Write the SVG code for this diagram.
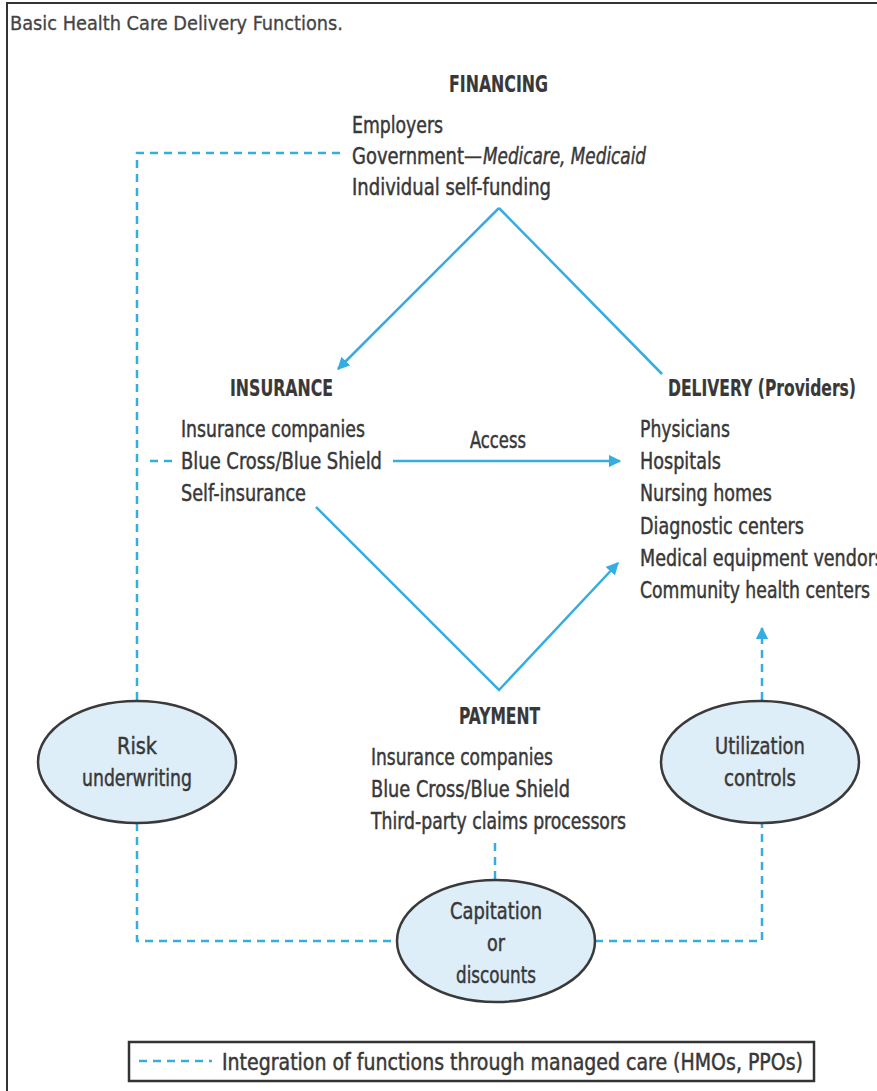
<svg xmlns="http://www.w3.org/2000/svg" width="877" height="1091" viewBox="0 0 877 1091">
<defs>
<style>
text{font-family:"Liberation Sans Narrow","DejaVu Sans Condensed","Liberation Sans",sans-serif;fill:#383838;font-size:23px;stroke:#383838;stroke-width:0.45px;}
.h{font-weight:bold;stroke-width:0.2px;}
.i{font-style:italic;}
.t{font-size:20px;fill:#444;stroke:#444;stroke-width:0.3px;}
.ln{stroke:#35ade0;stroke-width:2.5;fill:none;}
.dash{stroke:#35ade0;stroke-width:2.5;fill:none;stroke-dasharray:8 6;}
.ell{fill:#ddeef9;stroke:#3a3a3a;stroke-width:2.5;}
</style>
<marker id="arr" viewBox="0 0 10 10" refX="9" refY="5" markerWidth="5" markerHeight="5" orient="auto" markerUnits="strokeWidth">
<path d="M0,0 L10,5 L0,10 Z" fill="#35ade0"/>
</marker>
</defs>
<rect width="877" height="1091" fill="#fff"/>
<path d="M7,1091 V3 H877" stroke="#333" stroke-width="2" fill="none"/>
<text class="t" x="10" y="30" textLength="333" lengthAdjust="spacingAndGlyphs">Basic Health Care Delivery Functions.</text>

<g id="connectors">
<path class="ln" d="M499,208 L338,369" marker-end="url(#arr)"/>
<path class="ln" d="M499,208 L662,374"/>
<path class="ln" d="M393,461 L620,461" marker-end="url(#arr)"/>
<path class="ln" d="M316,507 L499,690 L618,563" marker-end="url(#arr)"/>
<path class="dash" d="M340,153 H137 V700"/>
<path class="dash" d="M150,461 H172"/>
<path class="dash" d="M137,823 V941 H397"/>
<path class="dash" d="M495,843 V880"/>
<path class="dash" d="M595,941 H762 V823"/>
<path class="dash" d="M762,700 V628" marker-end="url(#arr)"/>
</g>

<g id="financing">
<text class="h" x="449" y="92" textLength="99" lengthAdjust="spacingAndGlyphs">FINANCING</text>
<text x="352" y="133" textLength="91" lengthAdjust="spacingAndGlyphs">Employers</text>
<text x="352" y="164" textLength="130" lengthAdjust="spacingAndGlyphs">Government—</text>
<text class="i" x="483" y="164" textLength="163" lengthAdjust="spacingAndGlyphs">Medicare, Medicaid</text>
<text x="352" y="195" textLength="199" lengthAdjust="spacingAndGlyphs">Individual self-funding</text>
</g>

<g id="insurance">
<text class="h" x="230" y="396" textLength="103" lengthAdjust="spacingAndGlyphs">INSURANCE</text>
<text x="181" y="437" textLength="184" lengthAdjust="spacingAndGlyphs">Insurance companies</text>
<text x="181" y="469" textLength="201" lengthAdjust="spacingAndGlyphs">Blue Cross/Blue Shield</text>
<text x="181" y="501" textLength="125" lengthAdjust="spacingAndGlyphs">Self-insurance</text>
</g>

<g id="access-label">
<text x="470" y="448" textLength="56" lengthAdjust="spacingAndGlyphs">Access</text>
</g>

<g id="delivery">
<text class="h" x="668" y="396" textLength="188" lengthAdjust="spacingAndGlyphs">DELIVERY (Providers)</text>
<text x="640" y="437" textLength="90" lengthAdjust="spacingAndGlyphs">Physicians</text>
<text x="640" y="469" textLength="81" lengthAdjust="spacingAndGlyphs">Hospitals</text>
<text x="640" y="501" textLength="132" lengthAdjust="spacingAndGlyphs">Nursing homes</text>
<text x="640" y="534" textLength="164" lengthAdjust="spacingAndGlyphs">Diagnostic centers</text>
<text x="640" y="566" textLength="244" lengthAdjust="spacingAndGlyphs">Medical equipment vendors</text>
<text x="640" y="598" textLength="230" lengthAdjust="spacingAndGlyphs">Community health centers</text>
</g>

<g id="payment">
<text class="h" x="459" y="724" textLength="81" lengthAdjust="spacingAndGlyphs">PAYMENT</text>
<text x="371" y="765" textLength="182" lengthAdjust="spacingAndGlyphs">Insurance companies</text>
<text x="371" y="797" textLength="199" lengthAdjust="spacingAndGlyphs">Blue Cross/Blue Shield</text>
<text x="371" y="829" textLength="255" lengthAdjust="spacingAndGlyphs">Third-party claims processors</text>
</g>

<g id="risk">
<ellipse class="ell" cx="137" cy="762" rx="99" ry="61"/>
<text x="137" y="754" text-anchor="middle" textLength="40" lengthAdjust="spacingAndGlyphs">Risk</text>
<text x="137" y="786" text-anchor="middle" textLength="110" lengthAdjust="spacingAndGlyphs">underwriting</text>
</g>

<g id="utilization">
<ellipse class="ell" cx="760" cy="762" rx="99" ry="61"/>
<text x="760" y="754" text-anchor="middle" textLength="90" lengthAdjust="spacingAndGlyphs">Utilization</text>
<text x="760" y="786" text-anchor="middle" textLength="72" lengthAdjust="spacingAndGlyphs">controls</text>
</g>

<g id="capitation">
<ellipse class="ell" cx="496" cy="941" rx="99" ry="61"/>
<text x="496" y="919" text-anchor="middle" textLength="92" lengthAdjust="spacingAndGlyphs">Capitation</text>
<text x="496" y="951" text-anchor="middle" textLength="18" lengthAdjust="spacingAndGlyphs">or</text>
<text x="496" y="983" text-anchor="middle" textLength="80" lengthAdjust="spacingAndGlyphs">discounts</text>
</g>

<g id="legend">
<rect x="129" y="1042" width="685" height="39" fill="#fff" stroke="#333" stroke-width="2.5"/>
<path class="dash" d="M139,1061 H212"/>
<text x="222" y="1070" textLength="581" lengthAdjust="spacingAndGlyphs">Integration of functions through managed care (HMOs, PPOs)</text>
</g>
</svg>
